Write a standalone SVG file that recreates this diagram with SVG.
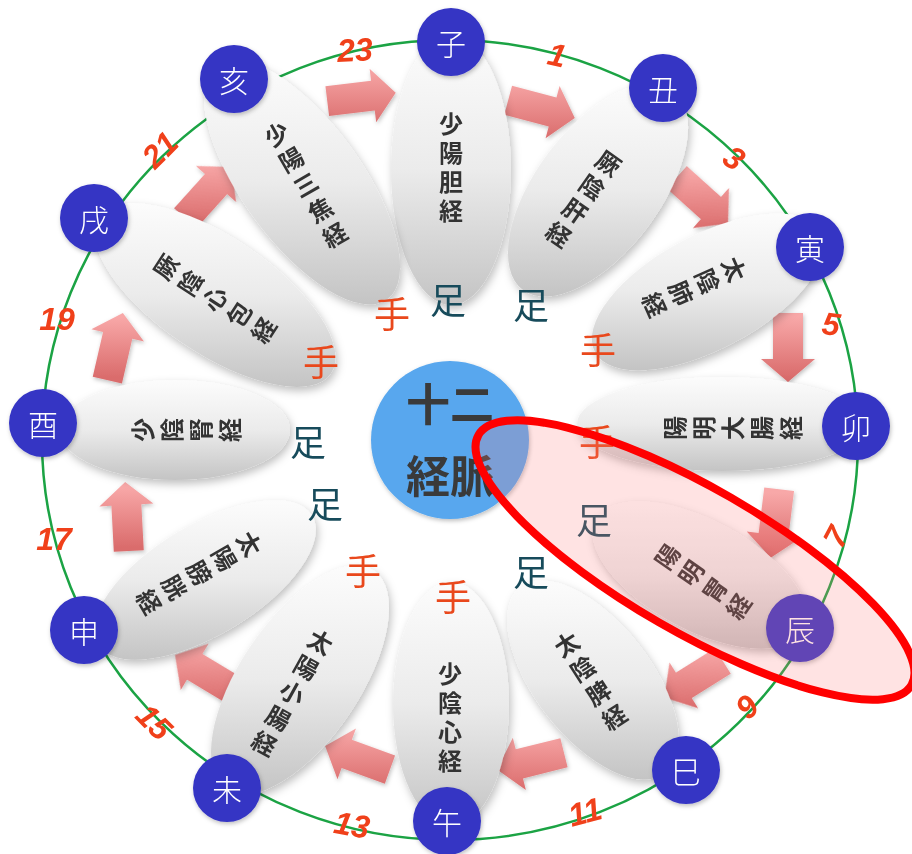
<svg xmlns="http://www.w3.org/2000/svg" width="912" height="854" viewBox="0 0 912 854">
<defs>
  <style>
    .mer { font-family: "Noto Sans CJK JP", "Noto Sans CJK SC", sans-serif; font-weight: 700; font-size: 24px; fill: #333333; writing-mode: vertical-rl; text-anchor: middle; letter-spacing: 5px; }
    .hr { fill: #3434c4; }
    .hrt { font-family: "Noto Sans CJK JP", "Noto Sans CJK SC", sans-serif; font-weight: 300; font-size: 30px; fill: #ffffff; text-anchor: middle; dominant-baseline: central; }
    .lim { font-family: "Noto Sans CJK JP", "Noto Sans CJK SC", sans-serif; font-size: 36px; text-anchor: middle; dominant-baseline: central; }
    .te { fill: #e9481c; }
    .ashi { fill: #174b5b; }
    .num { font-family: "Liberation Sans", Arial, sans-serif; font-weight: 700; font-style: italic; font-size: 32px; fill: #f0401a; text-anchor: middle; dominant-baseline: central; }
    .ctr { font-family: "Noto Sans CJK JP", "Noto Sans CJK SC", sans-serif; font-weight: 700; font-size: 44px; fill: #3a3a3a; text-anchor: middle; dominant-baseline: central; }
  </style>
  <filter id="sh" x="-30%" y="-30%" width="160%" height="160%">
    <feDropShadow dx="2" dy="4" stdDeviation="4" flood-color="#000" flood-opacity="0.25"/>
  </filter>
  <filter id="sh2" x="-30%" y="-30%" width="160%" height="160%">
    <feDropShadow dx="1" dy="2" stdDeviation="2" flood-color="#000" flood-opacity="0.25"/>
  </filter>
  <!-- pod fill: light top, grey bottom (kept vertical on screen per pod) -->
  <linearGradient id="podBase">
    <stop offset="0" stop-color="#fcfcfc"/>
    <stop offset="0.5" stop-color="#ebebeb"/>
    <stop offset="1" stop-color="#c4c4c4"/>
  </linearGradient>
  <linearGradient id="p-zi" href="#podBase" gradientUnits="userSpaceOnUse" x1="0" y1="-135" x2="0" y2="135"/>
  <linearGradient id="p-chou" href="#podBase" gradientUnits="userSpaceOnUse" x1="0" y1="-106" x2="0" y2="106" gradientTransform="rotate(-37)"/>
  <linearGradient id="p-yin" href="#podBase" gradientUnits="userSpaceOnUse" x1="0" y1="-78" x2="0" y2="78" gradientTransform="rotate(-62)"/>
  <linearGradient id="p-mao" href="#podBase" gradientUnits="userSpaceOnUse" x1="0" y1="-47" x2="0" y2="47" gradientTransform="rotate(-90)"/>
  <linearGradient id="p-chen" href="#podBase" gradientUnits="userSpaceOnUse" x1="0" y1="-74" x2="0" y2="74" gradientTransform="rotate(62)"/>
  <linearGradient id="p-si" href="#podBase" gradientUnits="userSpaceOnUse" x1="0" y1="-100" x2="0" y2="100" gradientTransform="rotate(38)"/>
  <linearGradient id="p-wu" href="#podBase" gradientUnits="userSpaceOnUse" x1="0" y1="-122" x2="0" y2="122"/>
  <linearGradient id="p-wei" href="#podBase" gradientUnits="userSpaceOnUse" x1="0" y1="-114" x2="0" y2="114" gradientTransform="rotate(-34)"/>
  <linearGradient id="p-shen" href="#podBase" gradientUnits="userSpaceOnUse" x1="0" y1="-80" x2="0" y2="80" gradientTransform="rotate(-59)"/>
  <linearGradient id="p-you" href="#podBase" gradientUnits="userSpaceOnUse" x1="0" y1="-50" x2="0" y2="50" gradientTransform="rotate(90)"/>
  <linearGradient id="p-xu" href="#podBase" gradientUnits="userSpaceOnUse" x1="0" y1="-92" x2="0" y2="92" gradientTransform="rotate(56)"/>
  <linearGradient id="p-hai" href="#podBase" gradientUnits="userSpaceOnUse" x1="0" y1="-122" x2="0" y2="122" gradientTransform="rotate(36)"/>
  <!-- arrow fill -->
  <linearGradient id="arBase">
    <stop offset="0" stop-color="#f8a8a8"/>
    <stop offset="1" stop-color="#da6c6c"/>
  </linearGradient>
  <path id="arrow" d="M-34,-15 H12 V-27 L35,0 L12,27 V15 H-34 Z"/>
  <linearGradient id="a1" href="#arBase" gradientUnits="userSpaceOnUse" x1="0" y1="-30" x2="0" y2="30" gradientTransform="rotate(7)"/>
  <linearGradient id="a2" href="#arBase" gradientUnits="userSpaceOnUse" x1="0" y1="-30" x2="0" y2="30" gradientTransform="rotate(-15)"/>
  <linearGradient id="a3" href="#arBase" gradientUnits="userSpaceOnUse" x1="0" y1="-30" x2="0" y2="30" gradientTransform="rotate(-42)"/>
  <linearGradient id="a4" href="#arBase" gradientUnits="userSpaceOnUse" x1="0" y1="-30" x2="0" y2="30" gradientTransform="rotate(-90)"/>
  <linearGradient id="a5" href="#arBase" gradientUnits="userSpaceOnUse" x1="0" y1="-30" x2="0" y2="30" gradientTransform="rotate(-97)"/>
  <linearGradient id="a6" href="#arBase" gradientUnits="userSpaceOnUse" x1="0" y1="-30" x2="0" y2="30" gradientTransform="rotate(-148)"/>
  <linearGradient id="a7" href="#arBase" gradientUnits="userSpaceOnUse" x1="0" y1="-30" x2="0" y2="30" gradientTransform="rotate(-166)"/>
  <linearGradient id="a8" href="#arBase" gradientUnits="userSpaceOnUse" x1="0" y1="-30" x2="0" y2="30" gradientTransform="rotate(-200)"/>
  <linearGradient id="a9" href="#arBase" gradientUnits="userSpaceOnUse" x1="0" y1="-30" x2="0" y2="30" gradientTransform="rotate(-211)"/>
  <linearGradient id="a10" href="#arBase" gradientUnits="userSpaceOnUse" x1="0" y1="-30" x2="0" y2="30" gradientTransform="rotate(93)"/>
  <linearGradient id="a11" href="#arBase" gradientUnits="userSpaceOnUse" x1="0" y1="-30" x2="0" y2="30" gradientTransform="rotate(77)"/>
  <linearGradient id="a12" href="#arBase" gradientUnits="userSpaceOnUse" x1="0" y1="-30" x2="0" y2="30" gradientTransform="rotate(48)"/>
</defs>

<rect width="912" height="854" fill="#ffffff"/>

<!-- hour ring -->
<ellipse cx="450" cy="440" rx="408" ry="400" fill="none" stroke="#1ba344" stroke-width="2.5"/>

<!-- flow arrows between meridians -->
<g id="connectors" filter="url(#sh2)">
  <use href="#arrow" fill="url(#a1)" transform="translate(361 97) rotate(-7)"/>
  <use href="#arrow" fill="url(#a2)" transform="translate(541 109) rotate(15)"/>
  <use href="#arrow" fill="url(#a3)" transform="translate(702 200) rotate(42)"/>
  <use href="#arrow" fill="url(#a4)" transform="translate(788 347) rotate(90)"/>
  <use href="#arrow" fill="url(#a5)" transform="translate(775 523) rotate(97)"/>
  <use href="#arrow" fill="url(#a6)" transform="translate(694 679) rotate(148)"/>
  <use href="#arrow" fill="url(#a7)" transform="translate(531 761) rotate(166)"/>
  <use href="#arrow" fill="url(#a8)" transform="translate(358 758) rotate(200)"/>
  <use href="#arrow" fill="url(#a9)" transform="translate(205 673) rotate(211)"/>
  <use href="#arrow" fill="url(#a10)" transform="translate(127 517) rotate(-93)"/>
  <use href="#arrow" fill="url(#a11)" transform="translate(115 347) rotate(-77)"/>
  <use href="#arrow" fill="url(#a12)" transform="translate(208 193) rotate(-48)"/>
</g>

<!-- meridian nodes -->
<g id="node-zi">
  <g filter="url(#sh)"><ellipse rx="60" ry="135" fill="url(#p-zi)" transform="translate(451 170)"/></g>
  <text class="mer" transform="translate(451 170)">少陽胆経</text>
  <circle class="hr" cx="451" cy="42" r="34" filter="url(#sh2)"/>
  <text class="hrt" x="451" y="42">子</text>
</g>
<g id="node-chou">
  <g filter="url(#sh)"><ellipse rx="62" ry="125" fill="url(#p-chou)" transform="translate(598 190) rotate(37)"/></g>
  <text class="mer" transform="translate(582 201) rotate(35)">厥陰肝経</text>
  <circle class="hr" cx="663" cy="88" r="34" filter="url(#sh2)"/>
  <text class="hrt" x="663" y="88">丑</text>
</g>
<g id="node-yin">
  <g filter="url(#sh)"><ellipse rx="57" ry="128" fill="url(#p-yin)" transform="translate(708 292) rotate(62)"/></g>
  <text class="mer" transform="translate(692 288) rotate(66)">太陰肺経</text>
  <circle class="hr" cx="810" cy="247" r="34" filter="url(#sh2)"/>
  <text class="hrt" x="810" y="247">寅</text>
</g>
<g id="node-mao">
  <g filter="url(#sh)"><ellipse rx="47" ry="145" fill="url(#p-mao)" transform="translate(722 424) rotate(90)"/></g>
  <text class="mer" transform="translate(735 428) rotate(-90)">陽明大腸経</text>
  <circle class="hr" cx="856" cy="426" r="34" filter="url(#sh2)"/>
  <text class="hrt" x="856" y="426">卯</text>
</g>
<g id="node-chen">
  <g filter="url(#sh)"><ellipse rx="55" ry="118" fill="url(#p-chen)" transform="translate(700 575) rotate(-62)"/></g>
  <text class="mer" transform="translate(705 583) rotate(-55)">陽明胃経</text>
  <circle class="hr" cx="800" cy="628" r="34" filter="url(#sh2)"/>
  <text class="hrt" x="800" y="628">辰</text>
</g>
<g id="node-si">
  <g filter="url(#sh)"><ellipse rx="58" ry="118" fill="url(#p-si)" transform="translate(593 680) rotate(-38)"/></g>
  <text class="mer" transform="translate(592 683) rotate(-33)">太陰脾経</text>
  <circle class="hr" cx="686" cy="770" r="34" filter="url(#sh2)"/>
  <text class="hrt" x="686" y="770">巳</text>
</g>
<g id="node-wu">
  <g filter="url(#sh)"><ellipse rx="58" ry="122" fill="url(#p-wu)" transform="translate(451 704)"/></g>
  <text class="mer" transform="translate(450 720)">少陰心経</text>
  <circle class="hr" cx="447" cy="821" r="34" filter="url(#sh2)"/>
  <text class="hrt" x="447" y="821">午</text>
</g>
<g id="node-wei">
  <g filter="url(#sh)"><ellipse rx="60" ry="132" fill="url(#p-wei)" transform="translate(300 680) rotate(34)"/></g>
  <text class="mer" transform="translate(291 695) rotate(29)">太陽小腸経</text>
  <circle class="hr" cx="227" cy="788" r="34" filter="url(#sh2)"/>
  <text class="hrt" x="227" y="788">未</text>
</g>
<g id="node-shen">
  <g filter="url(#sh)"><ellipse rx="55" ry="125" fill="url(#p-shen)" transform="translate(205 580) rotate(59)"/></g>
  <text class="mer" transform="translate(197 574) rotate(60)">太陽膀胱経</text>
  <circle class="hr" cx="84" cy="630" r="34" filter="url(#sh2)"/>
  <text class="hrt" x="84" y="630">申</text>
</g>
<g id="node-you">
  <g filter="url(#sh)"><ellipse rx="50" ry="115" fill="url(#p-you)" transform="translate(175 430) rotate(-90)"/></g>
  <text class="mer" transform="translate(189 430) rotate(-90)">少陰腎経</text>
  <circle class="hr" cx="43" cy="423" r="34" filter="url(#sh2)"/>
  <text class="hrt" x="43" y="423">酉</text>
</g>
<g id="node-xu">
  <g filter="url(#sh)"><ellipse rx="58" ry="140" fill="url(#p-xu)" transform="translate(215 295) rotate(-56)"/></g>
  <text class="mer" transform="translate(217 300) rotate(-57)">厥陰心包経</text>
  <circle class="hr" cx="94" cy="218" r="34" filter="url(#sh2)"/>
  <text class="hrt" x="94" y="218">戌</text>
</g>
<g id="node-hai">
  <g filter="url(#sh)"><ellipse rx="60" ry="145" fill="url(#p-hai)" transform="translate(302 182) rotate(-36)"/></g>
  <text class="mer" transform="translate(307 187) rotate(-30)">少陽三焦経</text>
  <circle class="hr" cx="234" cy="79" r="34" filter="url(#sh2)"/>
  <text class="hrt" x="234" y="79">亥</text>
</g>

<!-- hub -->
<g id="hub">
  <circle cx="450" cy="440" r="79" fill="#58a7ee" filter="url(#sh2)"/>
  <text class="ctr" x="450" y="402">十二</text>
  <text class="ctr" x="450" y="474">経脈</text>
</g>

<!-- hand / foot markers -->
<g id="limbs">
  <text class="lim te" x="392" y="312">手</text>
  <text class="lim te" x="321" y="360">手</text>
  <text class="lim te" x="598" y="348">手</text>
  <text class="lim te" x="597" y="440">手</text>
  <text class="lim te" x="363" y="569">手</text>
  <text class="lim te" x="453" y="595">手</text>
  <text class="lim ashi" x="448" y="298">足</text>
  <text class="lim ashi" x="531" y="303">足</text>
  <text class="lim ashi" x="308" y="440">足</text>
  <text class="lim ashi" x="325" y="502">足</text>
  <text class="lim ashi" x="594" y="518">足</text>
  <text class="lim ashi" x="531" y="570">足</text>
</g>

<!-- hour numbers on the ring -->
<g id="hours">
  <text class="num" transform="translate(355 50) rotate(-3)">23</text>
  <text class="num" transform="translate(557 55) rotate(12)">1</text>
  <text class="num" transform="translate(734 158) rotate(35)">3</text>
  <text class="num" transform="translate(831 324) rotate(8)">5</text>
  <text class="num" transform="translate(836 537) rotate(-62)">7</text>
  <text class="num" transform="translate(747 707) rotate(-45)">9</text>
  <text class="num" transform="translate(585 812) rotate(-15)">11</text>
  <text class="num" transform="translate(352 825) rotate(10)">13</text>
  <text class="num" transform="translate(154 722) rotate(45)">15</text>
  <text class="num" transform="translate(54 539)">17</text>
  <text class="num" transform="translate(57 319)">19</text>
  <text class="num" transform="translate(160 150) rotate(-45)">21</text>
</g>

<!-- highlight around the stomach meridian -->
<ellipse id="highlight" cx="695" cy="560" rx="250" ry="72" transform="rotate(30 695 560)" fill="#ff7f7f" fill-opacity="0.22" stroke="#ff0000" stroke-width="8"/>
</svg>
